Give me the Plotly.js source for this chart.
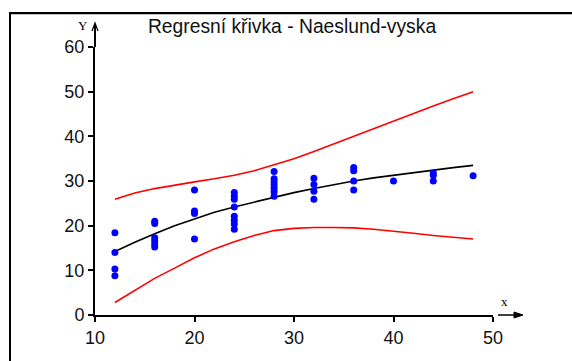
<!DOCTYPE html>
<html>
<head>
<meta charset="utf-8">
<script src="https://cdn.plot.ly/plotly-3.0.1.min.js"></script>
<style>html,body{margin:0;padding:0;background:#fff;}#chart{width:572px;height:361px;}</style>
</head>
<body>
<div id="chart"></div>
<script>
// Observed data
const obsX = [12,12,12,12, 16,16,16,16,16,16, 20,20,20,20, 24,24,24,24,24,24,24,24, 28,28,28,28,28,28,28, 32,32,32,32, 36,36,36,36, 40, 44,44,44, 48];
const obsY = [18.4,14.0,10.3,8.8, 21.0,20.5,17.3,16.6,15.9,15.2, 28.0,23.3,22.7,17.0, 27.4,26.6,25.9,24.2,22.1,21.2,20.4,19.2, 32.1,30.5,29.8,29.1,28.4,27.6,26.6, 30.6,29.2,27.7,25.9, 33.0,32.3,30.0,28.0, 30.0, 31.8,31.3,30.0, 31.2];

// Regression curve and confidence band
const curveX = [12,14,16,18,20,22,24,26,28,30,32,34,36,38,40,42,44,46,48];
const fitY   = [14.2,16.3,18.2,20.0,21.5,23.0,24.2,25.3,26.4,27.4,28.3,29.2,30.0,30.7,31.3,31.9,32.4,33.0,33.5];
const upperY = [25.9,27.3,28.3,29.1,29.8,30.5,31.3,32.3,33.6,35.0,36.6,38.3,40.0,41.8,43.5,45.1,46.8,48.4,50.0];
const lowerY = [2.8,5.6,8.2,10.5,12.8,14.8,16.4,17.8,18.9,19.4,19.6,19.6,19.5,19.2,18.8,18.3,17.8,17.4,17.0];

const xTicks = [10,20,30,40,50];
const yTicks = [0,10,20,30,40,50,60];
const titleText = 'Regresní křivka - Naeslund-vyska';

const L = 95, T = 47, W = 398, H = 268;
const px = p => (p - L) / W;       // pixel x -> paper
const py = p => (315 - p) / H;     // pixel y -> paper

const traces = [
  {x: curveX, y: upperY, mode: 'lines', line: {color: '#ff0000', width: 1.6}, hoverinfo: 'skip'},
  {x: curveX, y: lowerY, mode: 'lines', line: {color: '#ff0000', width: 1.6}, hoverinfo: 'skip'},
  {x: curveX, y: fitY, mode: 'lines', line: {color: '#000000', width: 1.6}, hoverinfo: 'skip'},
  {x: obsX, y: obsY, mode: 'markers', marker: {color: '#0000ff', size: 7}, hoverinfo: 'skip'}
];

const fontFam = 'Liberation Sans, Arial, sans-serif';

const shapes = [
  // outer frame
  {type: 'line', xref: 'paper', yref: 'paper', x0: px(10), x1: px(580), y0: py(13), y1: py(13), line: {color: '#000', width: 2}},
  {type: 'line', xref: 'paper', yref: 'paper', x0: px(10), x1: px(10), y0: py(12), y1: py(370), line: {color: '#000', width: 2}},
  {type: 'line', xref: 'paper', yref: 'paper', x0: px(11), x1: px(580), y0: py(14.5), y1: py(14.5), line: {color: '#c0c0c0', width: 1}},
  // y axis extension and arrow
  {type: 'line', xref: 'paper', yref: 'paper', x0: px(95), x1: px(95), y0: py(47), y1: py(24), line: {color: '#000', width: 2}},
  {type: 'path', xref: 'paper', yref: 'paper',
   path: `M ${px(92)} ${py(31)} L ${px(95)} ${py(23)} L ${px(98)} ${py(31)}`, line: {color: '#000', width: 1.2}},
  // x arrow
  {type: 'line', xref: 'paper', yref: 'paper', x0: px(498), x1: px(516), y0: py(315), y1: py(315), line: {color: '#000', width: 1.5}},
  {type: 'path', xref: 'paper', yref: 'paper',
   path: `M ${px(514)} ${py(312)} L ${px(523)} ${py(315)} L ${px(514)} ${py(318)} Z`, fillcolor: '#000', line: {color: '#000', width: 1}}
];

const annotations = [
  {text: 'Y', xref: 'paper', yref: 'paper', x: px(83), y: py(25), showarrow: false, xanchor: 'center', yanchor: 'middle',
   font: {family: 'Liberation Serif, Times New Roman, serif', size: 13, color: '#000'}},
  {text: 'x', xref: 'paper', yref: 'paper', x: px(504), y: py(301), showarrow: false, xanchor: 'center', yanchor: 'middle',
   font: {family: 'Liberation Serif, Times New Roman, serif', size: 13, color: '#000'}}
];

const layout = {
  width: 572, height: 361,
  margin: {l: L, r: 572 - L - W, t: T, b: 361 - T - H, pad: 0},
  paper_bgcolor: '#fff', plot_bgcolor: '#fff',
  showlegend: false,
  font: {family: fontFam, size: 18, color: '#111'},
  title: {text: titleText, font: {family: fontFam, size: 19.3, color: '#111'},
          xref: 'paper', x: px(292), xanchor: 'center', yref: 'container', y: 1 - 26/361, yanchor: 'middle'},
  xaxis: {range: [10, 50], tickvals: xTicks, ticktext: xTicks.map(String), showgrid: false, zeroline: false,
          showline: true, linecolor: '#000', linewidth: 2, ticks: 'outside', ticklen: 5, tickwidth: 2, tickcolor: '#000',
          tickfont: {family: fontFam, size: 18, color: '#111'}, fixedrange: true},
  yaxis: {range: [0, 60], tickvals: yTicks, ticktext: yTicks.map(String), showgrid: false, zeroline: false,
          showline: true, linecolor: '#000', linewidth: 2, ticks: 'outside', ticklen: 5, tickwidth: 2, tickcolor: '#000',
          tickfont: {family: fontFam, size: 18, color: '#111'}, fixedrange: true},
  shapes: shapes,
  annotations: annotations
};

Plotly.newPlot('chart', traces, layout, {staticPlot: true, displayModeBar: false});
</script>
</body>
</html>
